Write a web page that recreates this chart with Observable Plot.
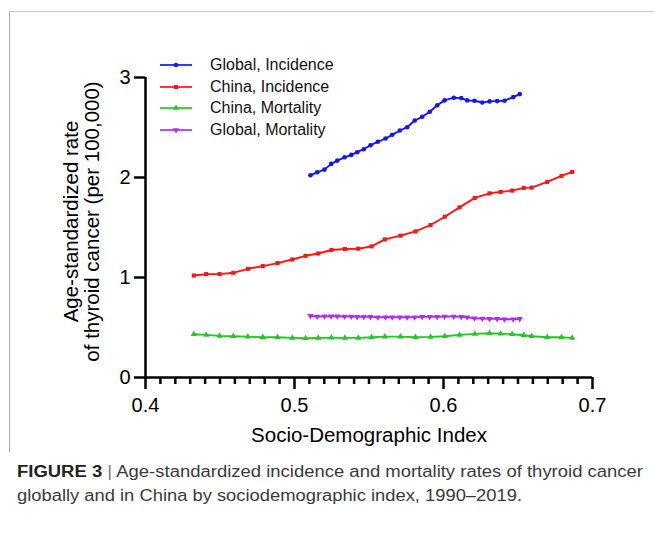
<!DOCTYPE html>
<html>
<head>
<meta charset="utf-8">
<script src="https://cdn.jsdelivr.net/npm/d3@7"></script>
<script src="https://cdn.jsdelivr.net/npm/@observablehq/plot@0.6"></script>
<style>
  html, body { margin: 0; padding: 0; background: #fff; }
  #wrap { position: relative; width: 654px; height: 537px; overflow: hidden; font-family: "Liberation Sans", Arial, Helvetica, sans-serif; }
  #frame { position: absolute; left: 9px; top: 11px; width: 660px; height: 440px; border-top: 1px solid #c9c9c9; border-left: 1px solid #a9a9a9; }
  #chart { position: absolute; left: 0; top: 0; }
  #legend { position: absolute; left: 160px; top: 54px; }
  .row { height: 21.7px; display: flex; align-items: center; font-size: 16px; color: #111; white-space: nowrap; }
  .row svg { margin-right: 18px; }
  #caption { position: absolute; left: 17px; top: 460px; font-size: 16px; color: #3a3a3a; white-space: nowrap; }
  .cl { display: block; transform-origin: 0 0; height: 24px; line-height: 24px; }
  .cl b { color: #222; }
  .bar { color: #777; }
</style>
</head>
<body>
<div id="wrap">
  <div id="frame"></div>
  <div id="chart"></div>
  <div id="legend"></div>
  <div id="caption">
    <div class="cl" id="c1"><b>FIGURE 3</b> <span class="bar">|</span> Age-standardized incidence and mortality rates of thyroid cancer</div>
    <div class="cl" id="c2">globally and in China by sociodemographic index, 1990–2019.</div>
  </div>
</div>
<script>
// ---- data ----
const xTicks = [0.4, 0.5, 0.6, 0.7];
const yTicks = [0, 1, 2, 3];
const xMinorTicks = d3.range(41, 70).filter(v => v % 10 !== 0).map(v => v / 100);

const xTitle = "Socio-Demographic Index";
const yTitle = "Age-standardized rate\nof thyroid cancer (per 100,000)";

const seriesNames = ["Global, Incidence", "China, Incidence", "China, Mortality", "Global, Mortality"];
const seriesColors = ["#1414ff", "#ff1414", "#22c822", "#b02cf5"];
const seriesSymbols = ["circle", "square", "triangle", "triangle"];
const seriesRotate = [0, 0, 0, 180];

const globalSDI = [0.5107, 0.5152, 0.5201, 0.5246, 0.5287, 0.5336, 0.5381, 0.5421, 0.5465, 0.5510,
                   0.5559, 0.5611, 0.5656, 0.5707, 0.5756, 0.5807, 0.5857, 0.5908, 0.5958, 0.6007,
                   0.6069, 0.6119, 0.6159, 0.6208, 0.6260, 0.6309, 0.6360, 0.6409, 0.6468, 0.6512];
const globalIncidence = [2.022, 2.052, 2.079, 2.136, 2.169, 2.202, 2.226, 2.253, 2.283, 2.323,
                         2.357, 2.390, 2.427, 2.470, 2.503, 2.570, 2.607, 2.657, 2.723, 2.771,
                         2.798, 2.794, 2.771, 2.768, 2.750, 2.761, 2.764, 2.768, 2.804, 2.834];
const globalMortality = [0.616, 0.610, 0.613, 0.613, 0.613, 0.610, 0.610, 0.606, 0.606, 0.606,
                         0.603, 0.603, 0.603, 0.603, 0.603, 0.603, 0.606, 0.606, 0.606, 0.610,
                         0.610, 0.606, 0.603, 0.593, 0.590, 0.586, 0.586, 0.583, 0.583, 0.586];

const chinaSDI = [0.4324, 0.4407, 0.4497, 0.4589, 0.4687, 0.4787, 0.4886, 0.4985, 0.5074, 0.5159,
                  0.5248, 0.5338, 0.5428, 0.5517, 0.5606, 0.5711, 0.5812, 0.5913, 0.6009, 0.6107,
                  0.6210, 0.6309, 0.6383, 0.6461, 0.6539, 0.6591, 0.6696, 0.6792, 0.6864];
const chinaIncidence = [1.020, 1.034, 1.034, 1.047, 1.087, 1.114, 1.144, 1.180, 1.217, 1.240,
                        1.275, 1.285, 1.288, 1.311, 1.381, 1.418, 1.461, 1.525, 1.608, 1.701,
                        1.796, 1.842, 1.856, 1.869, 1.896, 1.899, 1.956, 2.016, 2.056];
const chinaMortality = [0.433, 0.426, 0.416, 0.413, 0.409, 0.403, 0.403, 0.396, 0.392, 0.396,
                        0.399, 0.396, 0.396, 0.403, 0.409, 0.409, 0.403, 0.406, 0.413, 0.426,
                        0.436, 0.443, 0.439, 0.433, 0.423, 0.413, 0.403, 0.403, 0.396];

const seriesX = [globalSDI, chinaSDI, chinaSDI, globalSDI];
const seriesY = [globalIncidence, chinaIncidence, chinaMortality, globalMortality];

// ---- build ----
const rows = [];
seriesNames.forEach((name, i) => {
  seriesX[i].forEach((x, j) => rows.push({series: name, x, y: seriesY[i][j]}));
});

const H = 445;
const seriesMarks = [];
seriesNames.forEach((name, i) => {
  const d = rows.filter(r => r.series === name);
  seriesMarks.push(Plot.line(d, {x: "x", y: "y", stroke: seriesColors[i], strokeWidth: 1.9, curve: "linear"}));
  seriesMarks.push(Plot.dot(d, {x: "x", y: "y", fill: seriesColors[i], stroke: "none", r: 2.3, symbol: seriesSymbols[i], rotate: seriesRotate[i]}));
});

const chart = Plot.plot({
  width: 654,
  height: H,
  marginLeft: 145,
  marginRight: 62,
  marginTop: 77,
  marginBottom: H - 377,
  x: {domain: [0.4, 0.7]},
  y: {domain: [0, 3]},
  style: {fontFamily: "'Liberation Sans', Arial, Helvetica, sans-serif", color: "#000", background: "transparent", overflow: "visible"},
  marks: [
    ...seriesMarks,
    Plot.axisX({ticks: xMinorTicks, tickSize: 7, tickFormat: () => "", label: null, strokeWidth: 2.5}),
    Plot.axisX({ticks: xTicks, tickSize: 12, tickPadding: 8, fontSize: 20, tickFormat: d => d.toFixed(1), label: null, strokeWidth: 2.5}),
    Plot.axisY({ticks: yTicks, tickSize: 11, tickPadding: 4, fontSize: 20, tickFormat: d => String(d), label: null, strokeWidth: 2.5}),
    Plot.ruleY([0], {strokeWidth: 2.5}),
    Plot.ruleX([0.4], {strokeWidth: 2.5}),
    Plot.text([xTitle], {text: d => d, frameAnchor: "bottom", dy: 64, fontSize: 20.5}),
    Plot.text([yTitle], {text: d => d, frameAnchor: "left", textAnchor: "middle", lineAnchor: "middle", rotate: -90, dx: -64, dy: -6, fontSize: 20.5, lineHeight: 1.05})
  ]
});
document.getElementById("chart").appendChild(chart);

// legend
const legend = d3.select("#legend");
const symPath = {
  circle: d3.symbol(d3.symbolCircle, 16)(),
  square: d3.symbol(d3.symbolSquare, 16)(),
  triangle: d3.symbol(d3.symbolTriangle, 16)()
};
seriesNames.forEach((name, i) => {
  const row = legend.append("div").attr("class", "row");
  const svg = row.append("svg").attr("width", 32).attr("height", 10);
  svg.append("line").attr("x1", 0).attr("x2", 32).attr("y1", 5).attr("y2", 5)
     .attr("stroke", seriesColors[i]).attr("stroke-width", 1.7);
  svg.append("path").attr("d", symPath[seriesSymbols[i]])
     .attr("transform", `translate(16,5) rotate(${seriesRotate[i]})`).attr("fill", seriesColors[i]);
  row.append("span").text(name);
});

// fit caption lines to measured widths
const fit = (id, target) => {
  const el = document.getElementById(id);
  el.style.display = "inline-block";
  const w = el.getBoundingClientRect().width;
  el.style.display = "block";
  el.style.transform = `scaleX(${target / w})`;
};
fit("c1", 626);
fit("c2", 505);
</script>
</body>
</html>
